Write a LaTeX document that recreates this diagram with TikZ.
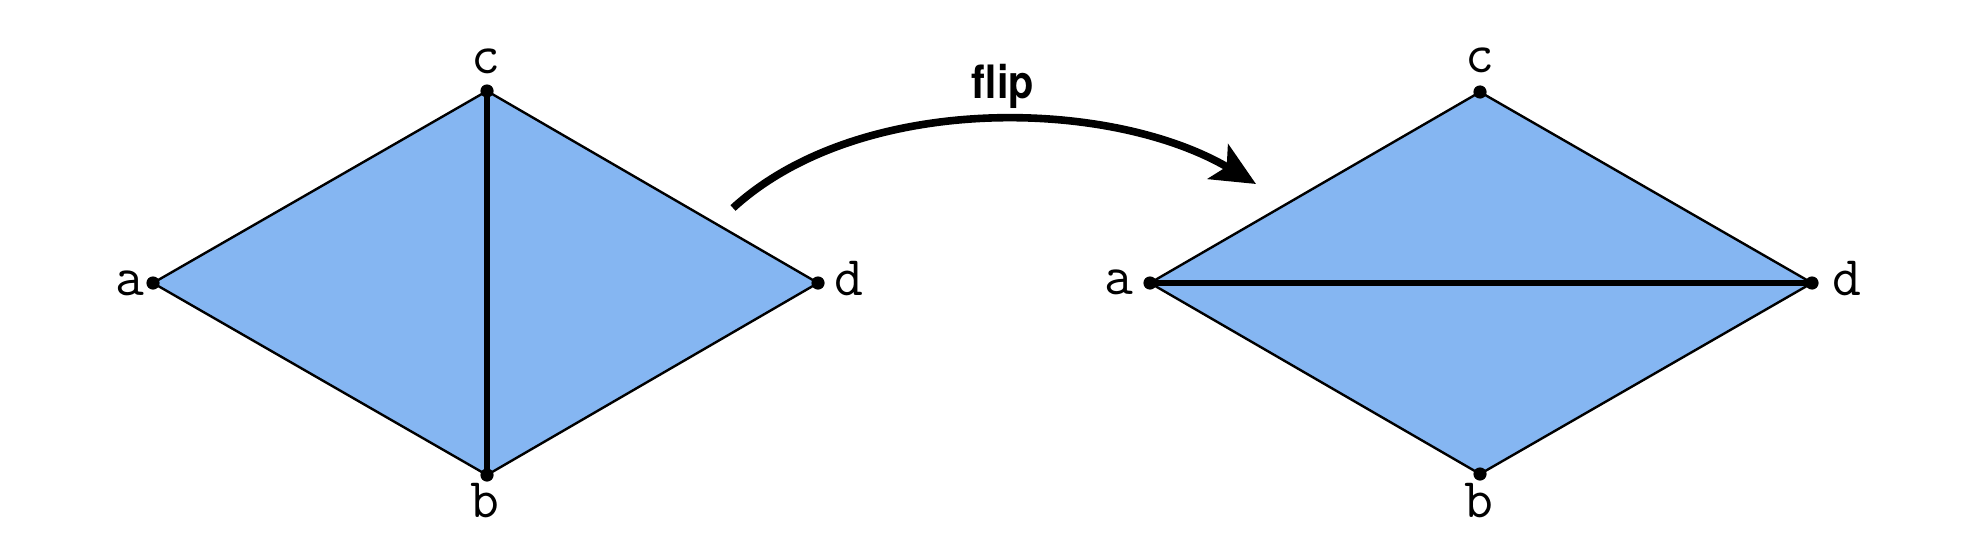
\documentclass[tikz,border=0pt]{standalone}
\usepackage{fontspec}
\newfontfamily\flipfont[FakeStretch=0.9]{TeX Gyre Heros}
\usetikzlibrary{arrows.meta}
\definecolor{tri}{RGB}{133,182,242}
\begin{document}
\begin{tikzpicture}[x=0.5pt,y=-0.5pt,
  edge/.style={line width=1.2pt,line join=miter},
  diag/.style={line width=3.2pt,line cap=round},
  lbl/.style={font=\ttfamily\fontsize{28}{28}\selectfont,anchor=base,inner sep=0pt},
  vdot/.style={circle,fill=black,inner sep=0pt,minimum size=6.6pt},
  fliparrow/.style={line width=3.8pt,-{Stealth[length=22pt,width=20pt,inset=5pt]}},
  fliplbl/.style={font=\flipfont\bfseries\fontsize{23}{23}\selectfont,anchor=base,inner sep=0pt}]
\useasboundingbox (0,0) rectangle (1964,552);
% left diamond
\coordinate (La) at (153,283);
\coordinate (Lc) at (487,91);
\coordinate (Ld) at (818,283);
\coordinate (Lb) at (487,475);
% right diamond
\coordinate (Ra) at (1150,283);
\coordinate (Rc) at (1480,92);
\coordinate (Rd) at (1812,283);
\coordinate (Rb) at (1480,474);
\fill[tri] (La)--(Lc)--(Ld)--(Lb)--cycle;
\draw[edge] (La)--(Lc)--(Ld)--(Lb)--cycle;
\draw[diag] (Lc)--(Lb);
\fill[tri] (Ra)--(Rc)--(Rd)--(Rb)--cycle;
\draw[edge] (Ra)--(Rc)--(Rd)--(Rb)--cycle;
\draw[diag] (Ra)--(Rd);
\foreach \p in {La,Lb,Lc,Ld,Ra,Rb,Rc,Rd} \node[vdot] (dot\p) at (\p) {};
% labels
\node[lbl] (laLa) at (130,295) {a};
\node[lbl] (laLc) at (486,73) {c};
\node[lbl] (laLb) at (485,517) {b};
\node[lbl] (laLd) at (849,295) {d};
\node[lbl] (laRa) at (1119,294) {a};
\node[lbl] (laRc) at (1480,72) {c};
\node[lbl] (laRb) at (1479,517) {b};
\node[lbl] (laRd) at (1847,295) {d};
% flip arrow
\coordinate (fs) at (733,208);
\coordinate (fe) at (1256,184);
\draw[fliparrow] (fs) .. controls (860,92) and (1110,98) .. (fe);
\node[fliplbl] (fl) at (1003,98) {flip};
\end{tikzpicture}
\end{document}
